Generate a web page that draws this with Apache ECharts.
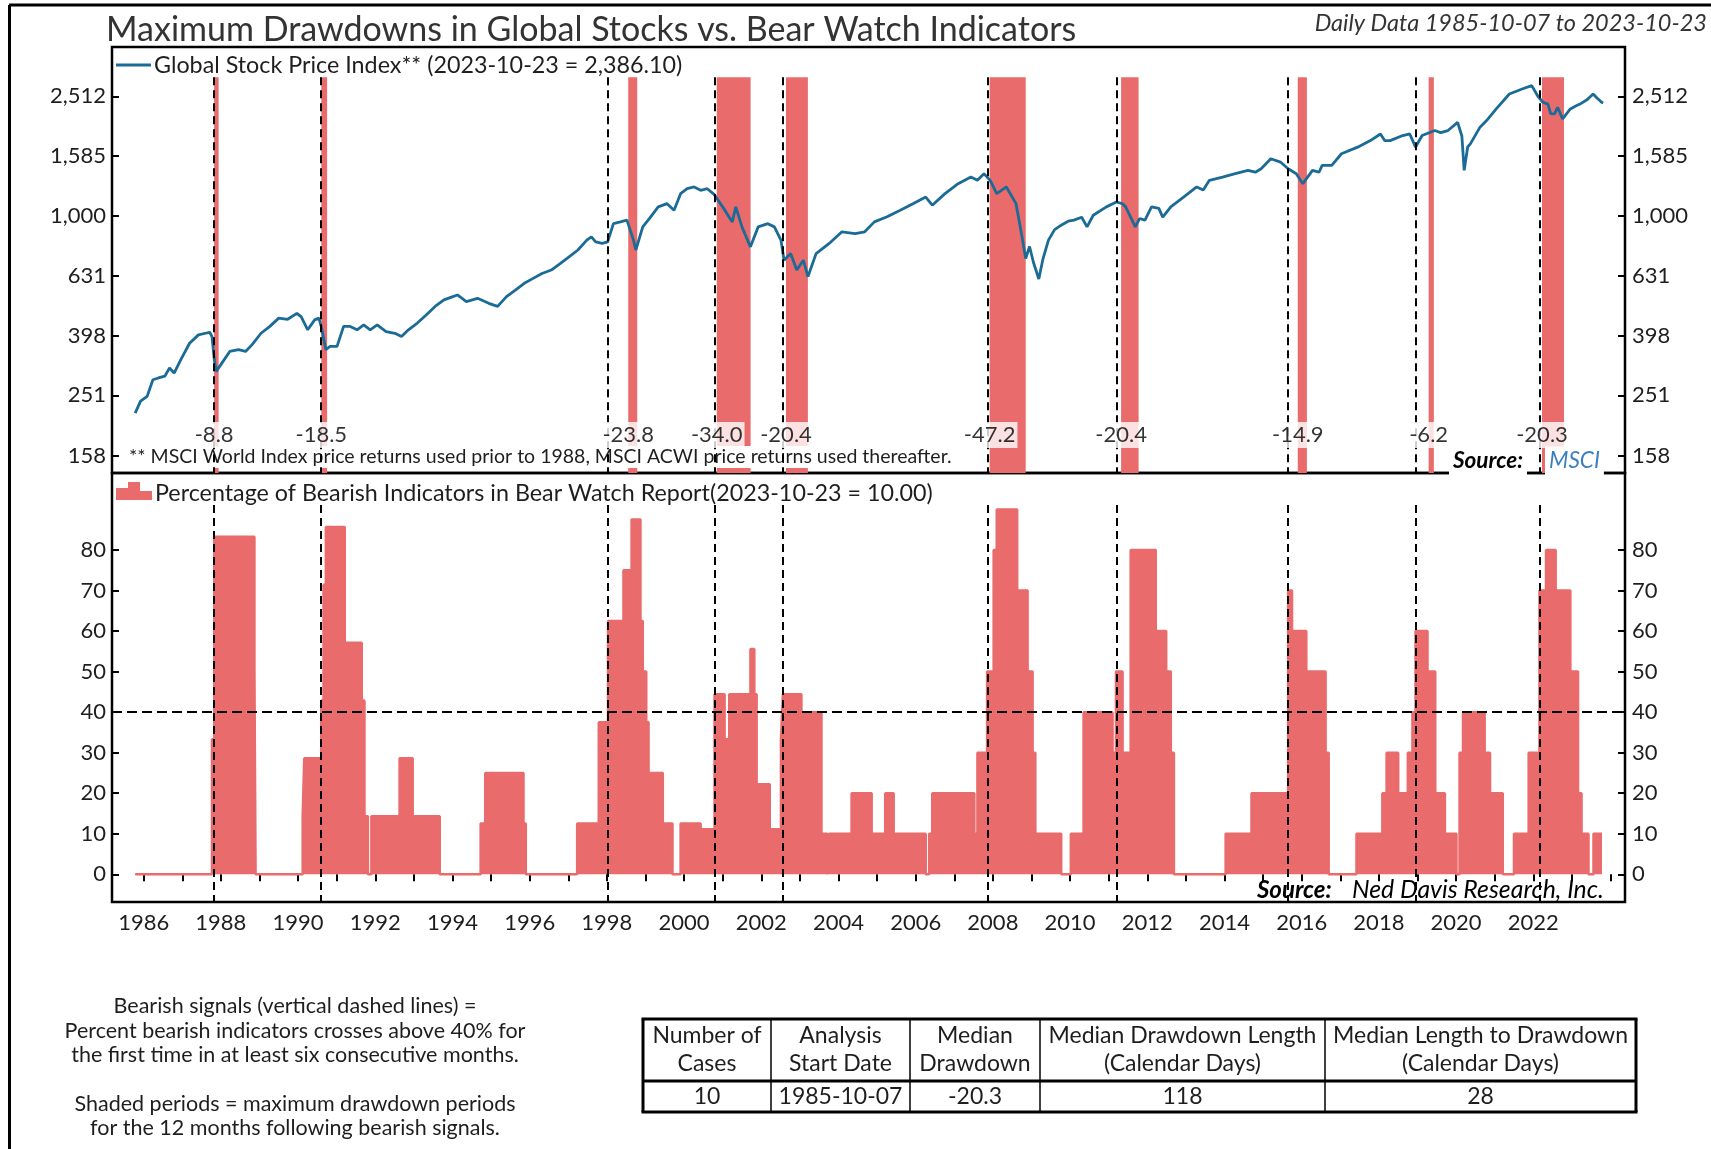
<!DOCTYPE html>
<html>
<head>
<meta charset="utf-8">
<title>Maximum Drawdowns in Global Stocks vs. Bear Watch Indicators</title>
<script src="https://cdn.jsdelivr.net/npm/echarts@6.0.0/dist/echarts.min.js"></script>
<style>
  html, body { margin: 0; padding: 0; background: #fff; }
  #chart { width: 1711px; height: 1149px; }
</style>
</head>
<body>
<div id="chart"></div>
<script>
// --- data (dates as decimal years) ---
var priceDates = [
  1985.78, 1985.92, 1986.09, 1986.24, 1986.38, 1986.55, 1986.67, 1986.79, 1986.96, 1987.19,
  1987.42, 1987.60, 1987.71, 1987.77, 1987.83, 1987.88, 1988.00, 1988.23, 1988.46, 1988.64,
  1988.81, 1989.04, 1989.27, 1989.50, 1989.73, 1989.97, 1990.08, 1990.25, 1990.43, 1990.54,
  1990.60, 1990.72, 1990.83, 1991.01, 1991.18, 1991.35, 1991.53, 1991.70, 1991.87, 1992.05,
  1992.28, 1992.51, 1992.68, 1992.86, 1993.09, 1993.32, 1993.55, 1993.78, 1994.01, 1994.13,
  1994.36, 1994.65, 1994.94, 1995.17, 1995.40, 1995.63, 1995.86, 1996.09, 1996.32, 1996.56,
  1996.79, 1997.02, 1997.25, 1997.48, 1997.60, 1997.71, 1997.88, 1998.02, 1998.17, 1998.35,
  1998.52, 1998.69, 1998.75, 1998.93, 1999.10, 1999.33, 1999.56, 1999.74, 1999.91, 2000.08,
  2000.26, 2000.43, 2000.60, 2000.78, 2001.00, 2001.25, 2001.34, 2001.50, 2001.72, 2001.92,
  2002.17, 2002.34, 2002.51, 2002.59, 2002.76, 2002.92, 2003.09, 2003.21, 2003.42, 2003.76,
  2004.09, 2004.43, 2004.68, 2004.93, 2005.26, 2005.60, 2005.93, 2006.26, 2006.43, 2006.76,
  2007.10, 2007.43, 2007.60, 2007.77, 2007.93, 2008.10, 2008.35, 2008.60, 2008.77, 2008.85,
  2008.95, 2009.05, 2009.19, 2009.30, 2009.44, 2009.60, 2009.77, 2009.95, 2010.10, 2010.30,
  2010.44, 2010.60, 2010.94, 2011.20, 2011.35, 2011.44, 2011.69, 2011.80, 2011.94, 2012.11,
  2012.30, 2012.40, 2012.61, 2012.94, 2013.28, 2013.45, 2013.61, 2013.95, 2014.28, 2014.61,
  2014.80, 2014.95, 2015.20, 2015.45, 2015.65, 2015.86, 2016.03, 2016.28, 2016.45, 2016.53,
  2016.78, 2017.03, 2017.45, 2017.78, 2018.04, 2018.15, 2018.29, 2018.62, 2018.80, 2018.95,
  2019.12, 2019.45, 2019.60, 2019.79, 2020.04, 2020.15, 2020.21, 2020.30, 2020.37, 2020.62,
  2020.79, 2021.04, 2021.38, 2021.71, 2021.96, 2022.13, 2022.25, 2022.38, 2022.45, 2022.55,
  2022.63, 2022.76, 2022.96, 2023.10, 2023.21, 2023.40, 2023.55, 2023.65, 2023.77, 2023.81
];
var priceValues = [
  219, 240, 249, 283, 287, 291, 310, 298, 330, 375,
  400, 405, 408, 395, 330, 302, 318, 352, 357, 352,
  371, 405, 427, 455, 451, 472, 460, 416, 449, 455,
  427, 357, 366, 366, 427, 427, 416, 432, 416, 432,
  410, 405, 395, 416, 438, 466, 498, 524, 537, 544,
  517, 530, 510, 498, 537, 565, 595, 618, 642, 659,
  693, 730, 769, 830, 851, 819, 809, 819, 942, 955,
  968, 830, 769, 919, 980, 1072, 1099, 1045, 1187, 1233,
  1250, 1218, 1233, 1180, 1072, 955, 1072, 919, 788, 919,
  942, 919, 830, 711, 748, 659, 711, 627, 748, 809,
  885, 873, 885, 955, 993, 1045, 1099, 1156, 1086, 1187,
  1282, 1349, 1315, 1384, 1315, 1187, 1250, 1099, 830, 720,
  790, 700, 615, 720, 830, 900, 931, 960, 968, 990,
  919, 1005, 1072, 1113, 1100, 1072, 919, 980, 968, 1072,
  1060, 990, 1072, 1156, 1250, 1220, 1315, 1349, 1384, 1420,
  1400, 1438, 1553, 1514, 1438, 1384, 1282, 1420, 1400, 1476,
  1476, 1614, 1698, 1786, 1879, 1786, 1786, 1857, 1880, 1698,
  1857, 1930, 1900, 1930, 2056, 1850, 1420, 1700, 1742, 1981,
  2084, 2280, 2558, 2657, 2727, 2500, 2400, 2366, 2200, 2193,
  2307, 2111, 2280, 2330, 2366, 2450, 2558, 2480, 2400, 2386
];

// percentage of bearish indicators, value holds until next date
var bearDates = [
  1985.78, 1987.77, 1987.83, 1988.87, 1988.90, 1990.12, 1990.16, 1990.60, 1990.66, 1990.72,
  1991.21, 1991.65, 1991.72, 1991.81, 1991.90, 1992.63, 1992.97, 1993.67, 1994.73, 1994.85,
  1995.84, 1995.90, 1997.23, 1997.79, 1998.03, 1998.43, 1998.64, 1998.87, 1998.93, 1999.02,
  1999.08, 1999.45, 1999.70, 1999.91, 2000.43, 2000.79, 2001.05, 2001.17, 2001.72, 2001.82,
  2001.88, 2002.22, 2002.51, 2002.56, 2003.04, 2003.56, 2003.71, 2003.76, 2004.34, 2004.86,
  2005.21, 2005.43, 2006.26, 2006.35, 2006.43, 2007.52, 2007.60, 2007.85, 2008.02, 2008.10,
  2008.63, 2008.90, 2009.03, 2009.10, 2009.77, 2010.02, 2010.35, 2011.10, 2011.19, 2011.36,
  2011.57, 2012.22, 2012.49, 2012.61, 2012.69, 2014.03, 2014.70, 2015.65, 2015.75, 2016.12,
  2016.62, 2016.70, 2017.42, 2018.09, 2018.20, 2018.50, 2018.75, 2018.87, 2018.95, 2019.26,
  2019.46, 2019.71, 2020.01, 2020.09, 2020.18, 2020.74, 2020.88, 2021.21, 2021.50, 2021.88,
  2022.16, 2022.33, 2022.58, 2022.96, 2023.16, 2023.25, 2023.43, 2023.56, 2023.78
];
var bearValues = [
  0, 33.3, 83.3, 50, 0, 14.3, 28.6, 42.9, 71.4, 85.7,
  57.1, 42.9, 14.3, 0, 14.3, 28.6, 14.3, 0, 12.5, 25,
  12.5, 0, 12.5, 37.5, 62.5, 75, 87.5, 62.5, 50, 37.5,
  25, 12.5, 0, 12.5, 11.1, 44.4, 33.3, 44.4, 55.6, 44.4,
  22.2, 11.1, 33.3, 44.4, 40, 10, 0, 10, 20, 10,
  20, 10, 0, 10, 20, 10, 30, 50, 80, 90,
  70, 50, 30, 10, 0, 10, 40, 30, 50, 30,
  80, 60, 50, 30, 0, 10, 20, 70, 60, 50,
  30, 0, 10, 20, 30, 20, 30, 40, 60, 50,
  20, 10, 0, 30, 40, 30, 20, 0, 10, 30,
  70, 80, 70, 50, 20, 10, 0, 10, 10
];

// bearish signals (dashed lines) and the drawdown that followed
var signalDates = [1987.826, 1990.60, 1998.025, 2000.794, 2002.56, 2007.88, 2011.205, 2015.65, 2018.955, 2022.16];
var shadeStarts = [1987.826, 1990.602, 1998.554, 2000.846, 2002.641, 2007.916, 2011.322, 2015.899, 2019.289, 2022.226];
var shadeEnds   = [1987.942, 1990.753, 1998.787, 2001.724, 2003.208, 2008.851, 2011.775, 2016.135, 2019.424, 2022.796];
var drawdowns   = [-8.8, -18.5, -23.8, -34.0, -20.4, -47.2, -20.4, -14.9, -6.2, -20.3];

var priceTicks = [158, 251, 398, 631, 1000, 1585, 2512];
var bearTicks = [0, 10, 20, 30, 40, 50, 60, 70, 80];
var yearTicks = [];
for (var y = 1986; y <= 2024; y++) yearTicks.push(y);
var yearLabels = yearTicks.filter(function (y) { return y % 2 === 0 && y <= 2022; });

var tableHead = [['Number of', 'Cases'], ['Analysis', 'Start Date'], ['Median', 'Drawdown'],
  ['Median Drawdown Length', '(Calendar Days)'], ['Median Length to Drawdown', '(Calendar Days)']];
var tableRow = ['10', '1985-10-07', '-20.3', '118', '28'];

var notes = [
  'Bearish signals (vertical dashed lines) =',
  'Percent bearish indicators crosses above 40% for',
  'the first time in at least six consecutive months.',
  '',
  'Shaded periods = maximum drawdown periods',
  'for the 12 months following bearish signals.'
];

// --- chart ---
var FONT = 'Lato, "Open Sans", sans-serif';
var barColor = '#e96b6b';
var lineColor = '#1b6b97';
var textColor = '#1e1e1e';

var XMIN = 1985.18, XMAX = 2024.376;
var LOG_MIN = 2.140, LOG_MAX = 3.565;
var SHADE_TOP = 3.4635;
var LABEL_Y = 2.267;
var BEAR_MIN = -6.84, BEAR_MAX = 99.0;
var BEAR_LINE_TOP = 91.1;

var priceData = priceDates.map(function (d, i) { return [d, Math.log10(priceValues[i])]; });
var bearData = bearDates.map(function (d, i) { return [d, bearValues[i]]; });
var priceTickPos = priceTicks.map(function (v) { return Math.log10(v); });

function fmtPrice(v) {
  return Math.round(Math.pow(10, v)).toLocaleString('en-US');
}

function txt(x, y, text, font, o) {
  o = o || {};
  var al = o.align || 'left';
  return {
    type: 'text', x: x, y: y, silent: true, z: o.z || 10,
    style: {
      text: text, font: font, fill: o.fill || textColor,
      align: al, verticalAlign: 'middle', textAlign: al, textVerticalAlign: 'middle',
      backgroundColor: o.bg, padding: o.pad
    }
  };
}
function hline(x1, x2, y, w, color) {
  return { type: 'line', silent: true, z: 10, shape: { x1: x1, y1: y, x2: x2, y2: y }, style: { stroke: color || '#000', lineWidth: w } };
}
function vline(x, y1, y2, w, color) {
  return { type: 'line', silent: true, z: 10, shape: { x1: x, y1: y1, x2: x, y2: y2 }, style: { stroke: color || '#000', lineWidth: w } };
}

var graphics = [];
// outer frame
graphics.push(hline(9, 1711, 5, 3));
graphics.push(vline(9.5, 5, 1149, 3));
// titles
graphics.push(txt(106, 30, 'Maximum Drawdowns in Global Stocks vs. Bear Watch Indicators', '34px ' + FONT, { fill: '#333' }));
graphics.push(txt(1707, 23, 'Daily Data 1985-10-07 to 2023-10-23', 'italic 23.5px ' + FONT, { fill: '#333', align: 'right' }));
// top legend
graphics.push(hline(116, 151, 65, 3, lineColor));
graphics.push(txt(154, 65, 'Global Stock Price Index** (2023-10-23 = 2,386.10)', '23.3px ' + FONT));
// bottom legend
graphics.push({ type: 'rect', silent: true, z: 10, shape: { x: 116, y: 488, width: 12, height: 12 }, style: { fill: barColor } });
graphics.push({ type: 'rect', silent: true, z: 10, shape: { x: 128, y: 482, width: 12, height: 18 }, style: { fill: barColor } });
graphics.push({ type: 'rect', silent: true, z: 10, shape: { x: 140, y: 491, width: 12, height: 9 }, style: { fill: barColor } });
graphics.push(txt(155, 493, 'Percentage of Bearish Indicators in Bear Watch Report(2023-10-23 = 10.00)', '23.3px ' + FONT));
// footnote and sources
graphics.push(txt(127, 457, '** MSCI World Index price returns used prior to 1988, MSCI ACWI price returns used thereafter.', '19.5px ' + FONT, { bg: '#fff', pad: [1, 2], z: 2 }));
graphics.push(txt(1449, 461, 'Source:', 'italic bold 22.5px ' + FONT, { fill: '#000', bg: '#fff', pad: [3, 4], z: 6 }));
graphics.push(txt(1545, 461, 'MSCI', 'italic 22.5px ' + FONT, { fill: '#3c7fc0', bg: '#fff', pad: [3, 4], z: 6 }));
graphics.push(txt(1257, 890, 'Source:', 'italic bold 24px ' + FONT, { fill: '#000' }));
graphics.push(txt(1352, 890, 'Ned Davis Research, Inc.', 'italic 24.8px ' + FONT, { fill: '#000' }));
// notes
var noteY = [1006, 1031, 1055, 1080, 1104, 1128];
notes.forEach(function (n, i) {
  if (n) graphics.push(txt(295, noteY[i], n, '21.5px ' + FONT, { align: 'center' }));
});
// table
var cols = [643, 771, 910, 1040, 1325, 1636];
var tTop = 1019, tMid = 1081, tBot = 1112;
graphics.push(hline(cols[0] - 1.5, cols[5] + 1.5, tTop, 3));
graphics.push(hline(cols[0] - 1.5, cols[5] + 1.5, tBot, 3));
graphics.push(hline(cols[0], cols[5], tMid, 3));
graphics.push(vline(cols[0], tTop, tBot, 3));
graphics.push(vline(cols[5], tTop, tBot, 3));
for (var c = 1; c < 5; c++) graphics.push(vline(cols[c], tTop, tBot, 1.5));
tableHead.forEach(function (h, i) {
  var cx = (cols[i] + cols[i + 1]) / 2;
  graphics.push(txt(cx, 1036, h[0], '23px ' + FONT, { align: 'center' }));
  graphics.push(txt(cx, 1064, h[1], '23px ' + FONT, { align: 'center' }));
  graphics.push(txt(cx, 1097, tableRow[i], '23px ' + FONT, { align: 'center' }));
});

var axisLabelStyle = { color: textColor, fontFamily: FONT, fontSize: 22 };

var option = {
  animation: false,
  backgroundColor: '#fff',
  grid: [
    { left: 112, right: 86, top: 47, height: 426, show: true, borderColor: '#000', borderWidth: 2.5, backgroundColor: 'transparent' },
    { left: 112, right: 86, top: 473, height: 429, show: true, borderColor: '#000', borderWidth: 2.5, backgroundColor: 'transparent' }
  ],
  xAxis: [
    { gridIndex: 0, type: 'value', min: XMIN, max: XMAX, axisLine: { show: false }, axisTick: { show: false }, axisLabel: { show: false }, splitLine: { show: false } },
    {
      gridIndex: 1, type: 'value', min: XMIN, max: XMAX,
      axisLine: { show: false }, splitLine: { show: false },
      axisTick: { show: true, customValues: yearTicks, length: 7, inside: false, lineStyle: { color: '#000', width: 2 } },
      axisLabel: Object.assign({ customValues: yearLabels, margin: 10, formatter: function (v) { return String(Math.round(v)); } }, axisLabelStyle)
    }
  ],
  yAxis: [
    {
      gridIndex: 0, type: 'value', position: 'left', min: LOG_MIN, max: LOG_MAX,
      axisLine: { show: false }, splitLine: { show: false },
      axisTick: { show: true, inside: true, length: 7, customValues: priceTickPos, lineStyle: { color: '#000', width: 2 } },
      axisLabel: Object.assign({ customValues: priceTickPos, margin: 6, formatter: fmtPrice }, axisLabelStyle)
    },
    {
      gridIndex: 0, type: 'value', position: 'right', min: LOG_MIN, max: LOG_MAX,
      axisLine: { show: false }, splitLine: { show: false },
      axisTick: { show: true, inside: true, length: 7, customValues: priceTickPos, lineStyle: { color: '#000', width: 2 } },
      axisLabel: Object.assign({ customValues: priceTickPos, margin: 7, formatter: fmtPrice }, axisLabelStyle)
    },
    {
      gridIndex: 1, type: 'value', position: 'left', min: BEAR_MIN, max: BEAR_MAX,
      axisLine: { show: false }, splitLine: { show: false },
      axisTick: { show: true, inside: true, length: 7, customValues: bearTicks, lineStyle: { color: '#000', width: 2 } },
      axisLabel: Object.assign({ customValues: bearTicks, margin: 6 }, axisLabelStyle)
    },
    {
      gridIndex: 1, type: 'value', position: 'right', min: BEAR_MIN, max: BEAR_MAX,
      axisLine: { show: false }, splitLine: { show: false },
      axisTick: { show: true, inside: true, length: 7, customValues: bearTicks, lineStyle: { color: '#000', width: 2 } },
      axisLabel: Object.assign({ customValues: bearTicks, margin: 7 }, axisLabelStyle)
    }
  ],
  series: [
    {
      // drawdown shading
      type: 'line', xAxisIndex: 0, yAxisIndex: 0, data: [], z: 1, silent: true,
      markArea: {
        silent: true, itemStyle: { color: barColor, opacity: 1 },
        data: shadeStarts.map(function (s, i) { return [{ coord: [s, LOG_MIN] }, { coord: [shadeEnds[i], SHADE_TOP] }]; })
      }
    },
    {
      // signal lines, top panel
      type: 'line', xAxisIndex: 0, yAxisIndex: 0, data: [], z: 3, silent: true,
      markLine: {
        silent: true, symbol: ['none', 'none'], label: { show: false },
        lineStyle: { color: '#000', width: 2, type: [8, 5] },
        data: signalDates.map(function (d) { return [{ coord: [d, SHADE_TOP] }, { coord: [d, LOG_MIN] }]; })
      }
    },
    {
      name: 'Global Stock Price Index',
      type: 'line', xAxisIndex: 0, yAxisIndex: 0, z: 4, silent: true,
      showSymbol: false, data: priceData,
      lineStyle: { color: lineColor, width: 2.8 }
    },
    {
      // drawdown labels
      type: 'scatter', xAxisIndex: 0, yAxisIndex: 0, z: 5, silent: true,
      symbolSize: 1, itemStyle: { color: 'transparent' },
      label: { show: true, position: 'inside', formatter: '{b}', color: '#000', fontFamily: FONT, fontSize: 22, backgroundColor: '#fff', padding: [2, 2] },
      data: drawdowns.map(function (d, i) { return { name: d.toFixed(1), value: [shadeStarts[i], LABEL_Y] }; })
    },
    {
      name: 'Percentage of Bearish Indicators',
      type: 'line', step: 'end', xAxisIndex: 1, yAxisIndex: 2, z: 2, silent: true,
      showSymbol: false, data: bearData,
      lineStyle: { color: barColor, width: 2.5 },
      areaStyle: { color: barColor, opacity: 1 }
    },
    {
      // signal lines and 40% threshold, bottom panel
      type: 'line', xAxisIndex: 1, yAxisIndex: 2, data: [], z: 3, silent: true,
      markLine: {
        silent: true, symbol: ['none', 'none'], label: { show: false },
        lineStyle: { color: '#000', width: 2, type: [8, 5] },
        data: signalDates.map(function (d) { return [{ coord: [d, BEAR_LINE_TOP] }, { coord: [d, BEAR_MIN] }]; })
          .concat([[{ coord: [XMIN, 40], lineStyle: { type: [10, 5], width: 1.8 } }, { coord: [XMAX, 40] }]])
      }
    }
  ],
  graphic: graphics
};

var chart = echarts.init(document.getElementById('chart'), null, { renderer: 'canvas' });
chart.setOption(option);
</script>
</body>
</html>
